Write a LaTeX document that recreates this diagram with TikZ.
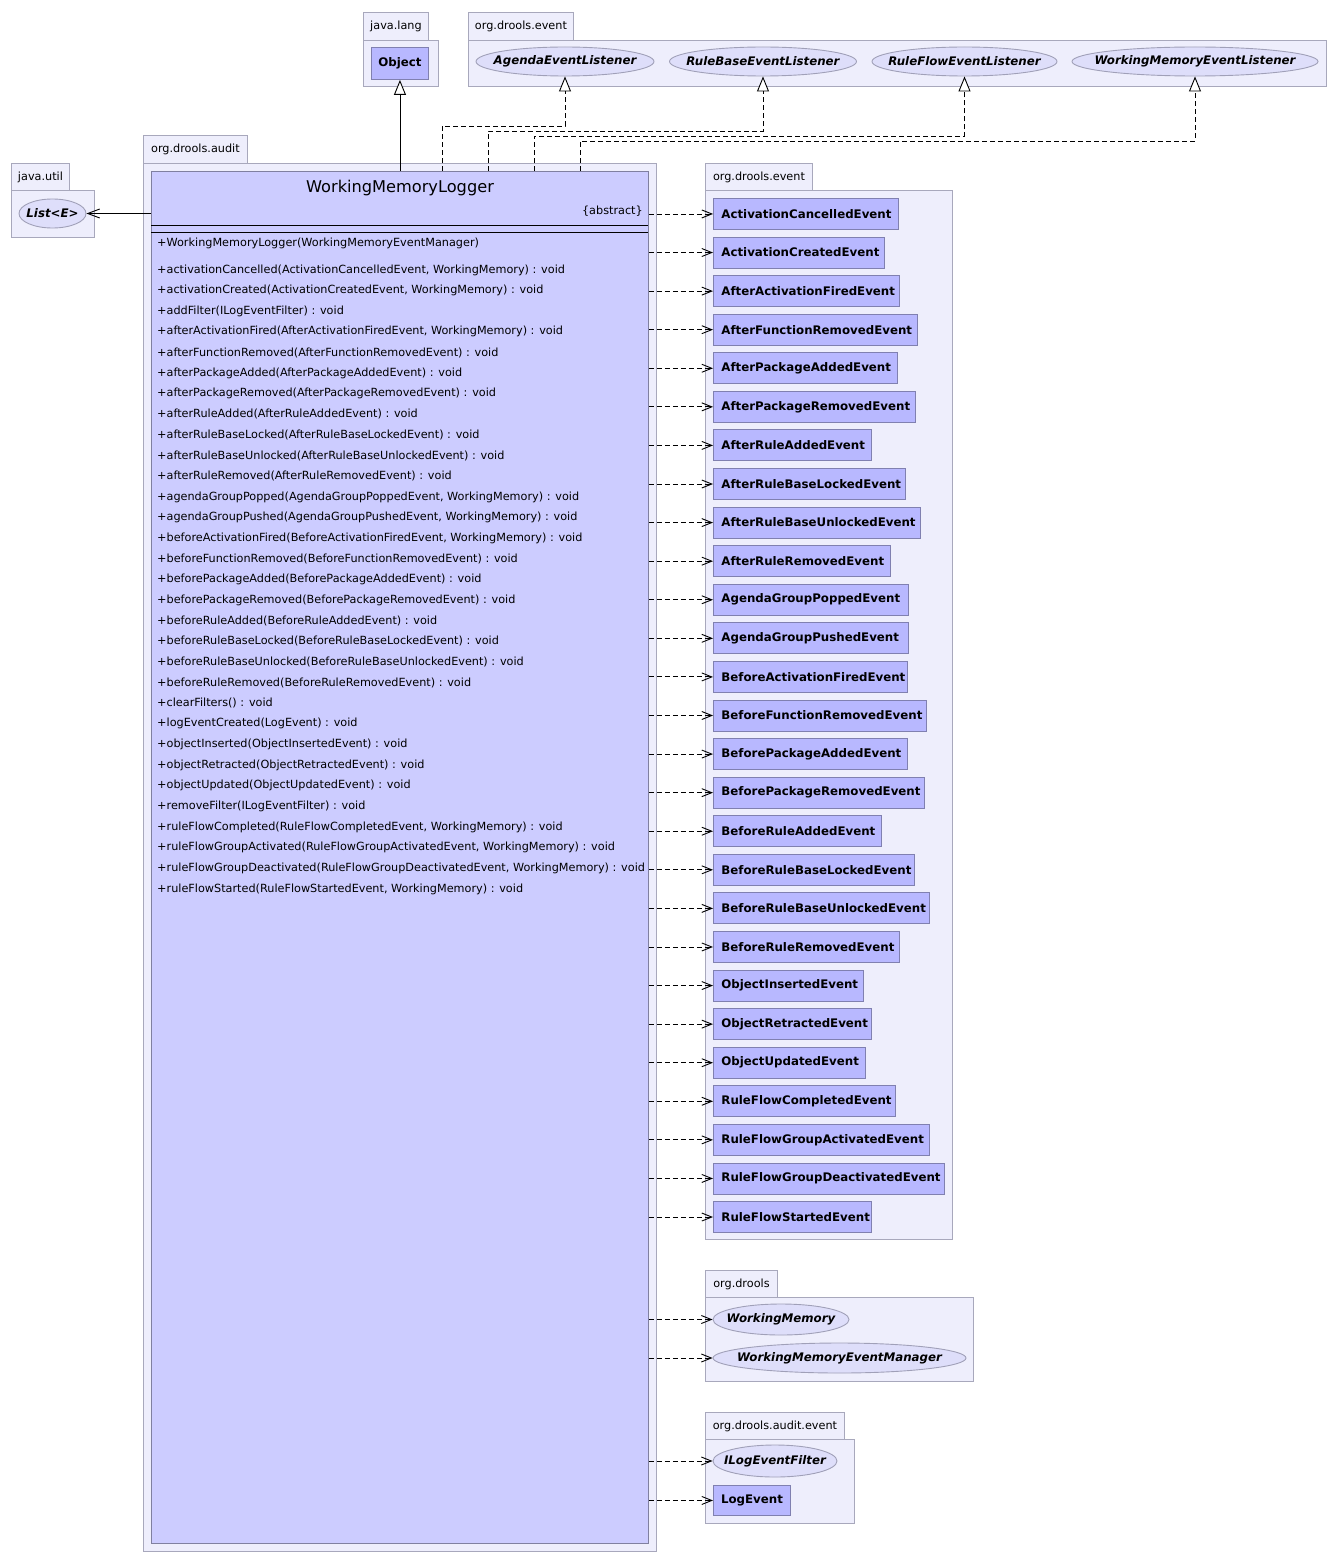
\documentclass[tikz,border=0pt]{standalone}
\usepackage{fontspec}
\setmainfont{DejaVu Sans}
\usetikzlibrary{arrows.meta,shapes.geometric}
\definecolor{pkgfill}{RGB}{238,238,252}
\definecolor{pkgdraw}{RGB}{168,168,188}
\definecolor{clsfill}{RGB}{184,184,255}
\definecolor{clsdraw}{RGB}{128,128,176}
\definecolor{mainfill}{RGB}{204,204,255}
\definecolor{maindraw}{RGB}{128,128,160}
\definecolor{ellfill}{RGB}{222,222,250}
\definecolor{elldraw}{RGB}{160,160,184}
\newcommand{\smallfnt}{\fontsize{11.25}{13}\selectfont}
\newcommand{\namefnt}{\fontsize{11.8}{14}\selectfont\bfseries}
\newcommand{\ifnamefnt}{\fontsize{11.8}{14}\selectfont\bfseries\itshape}
\newcommand{\titlefnt}{\fontsize{16.2}{19}\selectfont}
\begin{document}
\begin{tikzpicture}[x=1pt,y=-1pt,
  pkgtab/.style={draw=pkgdraw,fill=pkgfill,line width=0.9pt,inner sep=0pt,anchor=north west,font=\smallfnt},
  pkgbody/.style={draw=pkgdraw,fill=pkgfill,line width=0.9pt,inner sep=0pt,anchor=north west},
  cls/.style={draw=clsdraw,fill=clsfill,line width=0.9pt,inner sep=0pt,anchor=north west,font=\namefnt},
  evt/.style={draw=clsdraw,fill=clsfill,line width=0.9pt,inner xsep=8pt,inner ysep=0pt,minimum height=31pt,anchor=north west,align=left,font=\namefnt},
  iface/.style={ellipse,draw=elldraw,fill=ellfill,line width=0.9pt,inner sep=0pt,font=\ifnamefnt},
  mainc/.style={draw=maindraw,fill=mainfill,line width=0.9pt,inner sep=0pt,anchor=north west},
  meth/.style={inner sep=0pt,font=\smallfnt},
  dep/.style={line width=0.9pt,dash pattern=on 5pt off 3pt,-{Straight Barb[length=10pt,width=8pt]}},
  real/.style={line width=0.9pt,dash pattern=on 5pt off 3pt,-{Triangle[open,length=15pt,width=12pt,fill=white]}},
  gen/.style={line width=0.9pt,-{Triangle[open,length=15pt,width=12pt,fill=white]}},
  assoc/.style={line width=0.9pt,-{Straight Barb[length=12pt,width=9pt]}}
]
\useasboundingbox[fill=white] (0,0) rectangle (1338,1565);

% packages
\node[pkgtab,minimum width=65pt,minimum height=28pt] (jlT) at (363,12) {java.lang};
\node[pkgbody,minimum width=75pt,minimum height=46pt] (jl) at (363,40) {};
\node[pkgtab,minimum width=105pt,minimum height=28pt] (oeT) at (468,12) {org.drools.event};
\node[pkgbody,minimum width=858pt,minimum height=46pt] (oe) at (468,40) {};
\node[pkgtab,minimum width=58pt,minimum height=27pt] (juT) at (11,163) {java.util};
\node[pkgbody,minimum width=83pt,minimum height=47pt] (ju) at (11,190) {};
\node[pkgtab,minimum width=104pt,minimum height=28pt] (auT) at (143,135) {org.drools.audit};
\node[pkgbody,minimum width=513pt,minimum height=1388pt] (au) at (143,163) {};
\node[pkgtab,minimum width=107pt,minimum height=27pt] (reT) at (705,163) {org.drools.event};
\node[pkgbody,minimum width=247pt,minimum height=1049pt] (re) at (705,190) {};
\node[pkgtab,minimum width=72pt,minimum height=27pt] (odT) at (705,1270) {org.drools};
\node[pkgbody,minimum width=268pt,minimum height=84pt] (od) at (705,1297) {};
\node[pkgtab,minimum width=139pt,minimum height=27pt] (aeT) at (705,1412) {org.drools.audit.event};
\node[pkgbody,minimum width=149pt,minimum height=84pt] (ae) at (705,1439) {};

% classes / interfaces
\node[cls,minimum width=57pt,minimum height=32pt] (obj) at (371,47) {Object};
\node[iface,minimum width=178pt,minimum height=29pt] (ael) at (565,61.5) {\makebox[0pt]{AgendaEventListener}};
\node[iface,minimum width=187pt,minimum height=29pt] (rbel) at (763,61.5) {\makebox[0pt]{RuleBaseEventListener}};
\node[iface,minimum width=185pt,minimum height=29pt] (rfel) at (964.5,61.5) {\makebox[0pt]{RuleFlowEventListener}};
\node[iface,minimum width=246pt,minimum height=29pt] (wmel) at (1195,61.5) {\makebox[0pt]{WorkingMemoryEventListener}};
\node[iface,minimum width=67pt,minimum height=29pt] (list) at (52.5,213.5) {\makebox[0pt]{List<E>}};
\node[iface,minimum width=136pt,minimum height=31pt] (wm) at (781,1319.5) {\makebox[0pt]{WorkingMemory}};
\node[iface,minimum width=253pt,minimum height=30pt] (wmem) at (839.5,1358) {\makebox[0pt]{WorkingMemoryEventManager}};
\node[iface,minimum width=124pt,minimum height=32pt] (ilef) at (775,1461) {\makebox[0pt]{ILogEventFilter}};
\node[cls,minimum width=77pt,minimum height=30pt] (le) at (713,1485) {LogEvent};

% main class
\node[mainc,minimum width=497pt,minimum height=1372pt] (wml) at (151,171) {};
\node[font=\titlefnt,inner sep=0pt] (wmlname) at (400,188) {WorkingMemoryLogger};
\node[meth,anchor=east] (wmlabs) at (643,211) {\{abstract\}};
\draw[line width=0.9pt] (151,225) -- (648,225);
\draw[line width=0.9pt] (151,232) -- (648,232);
\node[meth,anchor=west] (ctor) at (157,243) {+WorkingMemoryLogger(WorkingMemoryEventManager)};
\foreach \t [count=\i] in {
 {activationCancelled(ActivationCancelledEvent, WorkingMemory) : void},
 {activationCreated(ActivationCreatedEvent, WorkingMemory) : void},
 {addFilter(ILogEventFilter) : void},
 {afterActivationFired(AfterActivationFiredEvent, WorkingMemory) : void},
 {afterFunctionRemoved(AfterFunctionRemovedEvent) : void},
 {afterPackageAdded(AfterPackageAddedEvent) : void},
 {afterPackageRemoved(AfterPackageRemovedEvent) : void},
 {afterRuleAdded(AfterRuleAddedEvent) : void},
 {afterRuleBaseLocked(AfterRuleBaseLockedEvent) : void},
 {afterRuleBaseUnlocked(AfterRuleBaseUnlockedEvent) : void},
 {afterRuleRemoved(AfterRuleRemovedEvent) : void},
 {agendaGroupPopped(AgendaGroupPoppedEvent, WorkingMemory) : void},
 {agendaGroupPushed(AgendaGroupPushedEvent, WorkingMemory) : void},
 {beforeActivationFired(BeforeActivationFiredEvent, WorkingMemory) : void},
 {beforeFunctionRemoved(BeforeFunctionRemovedEvent) : void},
 {beforePackageAdded(BeforePackageAddedEvent) : void},
 {beforePackageRemoved(BeforePackageRemovedEvent) : void},
 {beforeRuleAdded(BeforeRuleAddedEvent) : void},
 {beforeRuleBaseLocked(BeforeRuleBaseLockedEvent) : void},
 {beforeRuleBaseUnlocked(BeforeRuleBaseUnlockedEvent) : void},
 {beforeRuleRemoved(BeforeRuleRemovedEvent) : void},
 {clearFilters() : void},
 {logEventCreated(LogEvent) : void},
 {objectInserted(ObjectInsertedEvent) : void},
 {objectRetracted(ObjectRetractedEvent) : void},
 {objectUpdated(ObjectUpdatedEvent) : void},
 {removeFilter(ILogEventFilter) : void},
 {ruleFlowCompleted(RuleFlowCompletedEvent, WorkingMemory) : void},
 {ruleFlowGroupActivated(RuleFlowGroupActivatedEvent, WorkingMemory) : void},
 {ruleFlowGroupDeactivated(RuleFlowGroupDeactivatedEvent, WorkingMemory) : void},
 {ruleFlowStarted(RuleFlowStartedEvent, WorkingMemory) : void}}
 \node[meth,anchor=west] (m\i) at (157,{270+(\i-1)*20.63}) {+\t};

% event classes
\foreach \n/\r [count=\i] in {
 ActivationCancelledEvent/898, ActivationCreatedEvent/884, AfterActivationFiredEvent/899,
 AfterFunctionRemovedEvent/917, AfterPackageAddedEvent/897, AfterPackageRemovedEvent/915,
 AfterRuleAddedEvent/871, AfterRuleBaseLockedEvent/905, AfterRuleBaseUnlockedEvent/920,
 AfterRuleRemovedEvent/890, AgendaGroupPoppedEvent/908, AgendaGroupPushedEvent/908,
 BeforeActivationFiredEvent/907, BeforeFunctionRemovedEvent/926, BeforePackageAddedEvent/907,
 BeforePackageRemovedEvent/924, BeforeRuleAddedEvent/881, BeforeRuleBaseLockedEvent/914,
 BeforeRuleBaseUnlockedEvent/929, BeforeRuleRemovedEvent/899, ObjectInsertedEvent/863,
 ObjectRetractedEvent/871, ObjectUpdatedEvent/865, RuleFlowCompletedEvent/895,
 RuleFlowGroupActivatedEvent/929, RuleFlowGroupDeactivatedEvent/944, RuleFlowStartedEvent/871}
{
 \node[evt,text width={(\r-729)*1pt}] (e\i) at (713,{198+(\i-1)*38.58}) {\n};
 \draw[dep] (wml.east |- e\i.west) -- (e\i.west);
}

% other dependencies
\draw[dep] (wml.east |- wm.west) -- (wm.west);
\draw[dep] (wml.east |- wmem.west) -- (wmem.west);
\draw[dep] (wml.east |- ilef.west) -- (ilef.west);
\draw[dep] (wml.east |- le.west) -- (le.west);

% generalization and association
\draw[gen] (wml.north) -- (obj.south);
\draw[assoc] (wml.west |- list.east) -- (list.east);

% realizations
\coordinate (s1) at (442,171);
\coordinate (s2) at (488,171);
\coordinate (s3) at (534,171);
\coordinate (s4) at (580,171);
\coordinate (k1) at (565,126);
\coordinate (k2) at (763,131);
\coordinate (k3) at (964.5,136);
\coordinate (k4) at (1195,141);
\draw[real] (s1) |- (k1) -- (ael.south);
\draw[real] (s2) |- (k2) -- (rbel.south);
\draw[real] (s3) |- (k3) -- (rfel.south);
\draw[real] (s4) |- (k4) -- (wmel.south);
\end{tikzpicture}
\end{document}
